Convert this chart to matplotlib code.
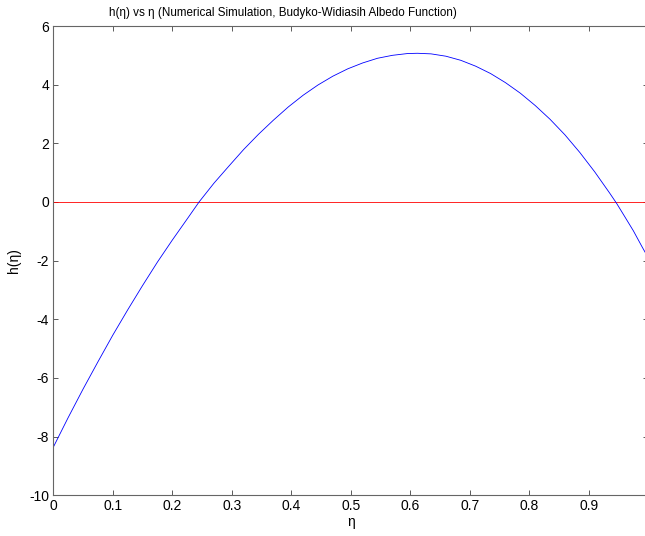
import matplotlib
matplotlib.use("Agg")
import numpy as np
from matplotlib import pyplot as plt

plt.rcParams['font.family'] = ['Liberation Sans', 'DejaVu Sans']
plt.rcParams['axes.unicode_minus'] = False

# values
eta = [0.0, 0.025, 0.05, 0.075, 0.1, 0.125, 0.15, 0.175, 0.2, 0.225,
       0.245, 0.27, 0.295, 0.32, 0.345, 0.37, 0.395, 0.42, 0.445, 0.47,
       0.495, 0.52, 0.545, 0.57, 0.595, 0.612, 0.635, 0.66, 0.685, 0.71,
       0.735, 0.76, 0.785, 0.81, 0.835, 0.86, 0.885, 0.91, 0.935, 0.947,
       0.96, 0.975, 0.99, 1.0]
h = [-8.36, -7.35, -6.38, -5.45, -4.54, -3.68, -2.85, -2.05, -1.30, -0.58,
     0.0, 0.64, 1.22, 1.79, 2.31, 2.79, 3.24, 3.64, 3.99, 4.29,
     4.54, 4.74, 4.90, 5.00, 5.06, 5.07, 5.05, 4.97, 4.83, 4.63,
     4.38, 4.07, 3.71, 3.29, 2.82, 2.29, 1.69, 1.03, 0.31, -0.05,
     -0.48, -0.98, -1.54, -1.90]

ref_x = [0.0, 1.0]
ref_y = [0.0, 0.0]

x_ticks = [0, 0.1, 0.2, 0.3, 0.4, 0.5, 0.6, 0.7, 0.8, 0.9]
x_labels = ['0', '0.1', '0.2', '0.3', '0.4', '0.5', '0.6', '0.7', '0.8', '0.9']
y_ticks = [-10, -8, -6, -4, -2, 0, 2, 4, 6]

W, H = 645, 536
fig = plt.figure(figsize=(W / 100, H / 100), dpi=100)
left, right, top, bottom = 53.3, 648.2, 26.0, 495.3
ax = fig.add_axes([left / W, 1 - bottom / H, (right - left) / W, (bottom - top) / H])

ax.plot(ref_x, ref_y, color='#ff0000', linewidth=0.6)
ax.plot(eta, h, color='#0000ff', linewidth=0.6)

ax.set_xlim(0, 1)
ax.set_ylim(-10, 6)
ax.set_xticks(x_ticks)
ax.set_xticklabels(x_labels)
ax.set_yticks(y_ticks)
ax.tick_params(direction='in', length=3.5, width=0.6, color='0.25',
               top=True, right=True, labelsize=10, pad=3)
for s in ax.spines.values():
    s.set_color('0.4')
    s.set_linewidth(0.8)

ax.set_title(u'h(\u03b7) vs \u03b7 (Numerical Simulation, Budyko-Widiasih Albedo Function)',
             fontsize=8.4, x=(283 - left) / (right - left), pad=7)
ax.set_xlabel(u'\u03b7', fontsize=10, labelpad=1)
ax.set_ylabel(u'h(\u03b7)', fontsize=10, labelpad=6)

fig.savefig('out.png', dpi=100)
